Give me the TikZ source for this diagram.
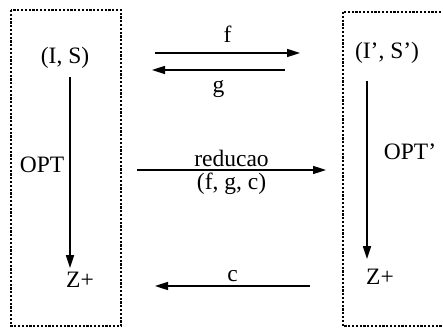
\documentclass[tikz,border=0pt]{standalone}
\usepackage{fontspec}
\setmainfont{Liberation Serif}
\usetikzlibrary{arrows.meta}

\begin{document}
\begin{tikzpicture}[
  x=1pt, y=-1pt,
  every node/.style={font=\fontsize{23.5}{27}\selectfont, inner sep=1pt},
  frame/.style={draw, line width=2pt, dash pattern=on 2.2pt off 1.6pt},
  arr/.style={-{Triangle[length=13pt, width=8pt]}, line width=1.6pt}
]
  \useasboundingbox (0,0) rectangle (443,328);

  % dotted frames
  \draw[frame] (11,10) rectangle (121,326);
  \draw[frame] (343,12) rectangle (460,326);

  % left side
  \node (is)   at (65,58)  {(I, S)};
  \node (zl)   at (80,280) {Z+};
  \node (optl) at (42,165) {OPT};

  % right side
  \node (isp)  at (387,53)  {(I', S')};
  \node (zr)   at (380,277) {Z+};
  \node (optr) at (410,152) {OPT'};

  % end points of the middle arrows
  \coordinate (fa) at (155,53);  \coordinate (fb) at (300,53);
  \coordinate (ga) at (285,70);  \coordinate (gb) at (152,70);
  \coordinate (ra) at (137,170); \coordinate (rb) at (326,170);
  \coordinate (ca) at (310,286); \coordinate (cb) at (155,286);

  \draw[arr, shorten <=7pt, shorten >=3pt]
    ([xshift=5pt]is.south) -- ([xshift=5pt]is.south |- zl.north);
  \draw[arr, shorten <=16pt, shorten >=9pt]
    ([xshift=-20pt]isp.south) -- ([xshift=-20pt]isp.south |- zr.north);

  \draw[arr] (fa) -- node[above=9pt] {f} (fb);
  \draw[arr] (ga) -- node[below=9pt] {g} (gb);
  \draw[arr] (ra) -- node[above=1pt] (red) {reducao}
                     node[below=1pt] (fgc) {(f, g, c)} (rb);
  \draw[arr] (ca) -- node[above=2pt] {c} (cb);

\end{tikzpicture}
\end{document}
